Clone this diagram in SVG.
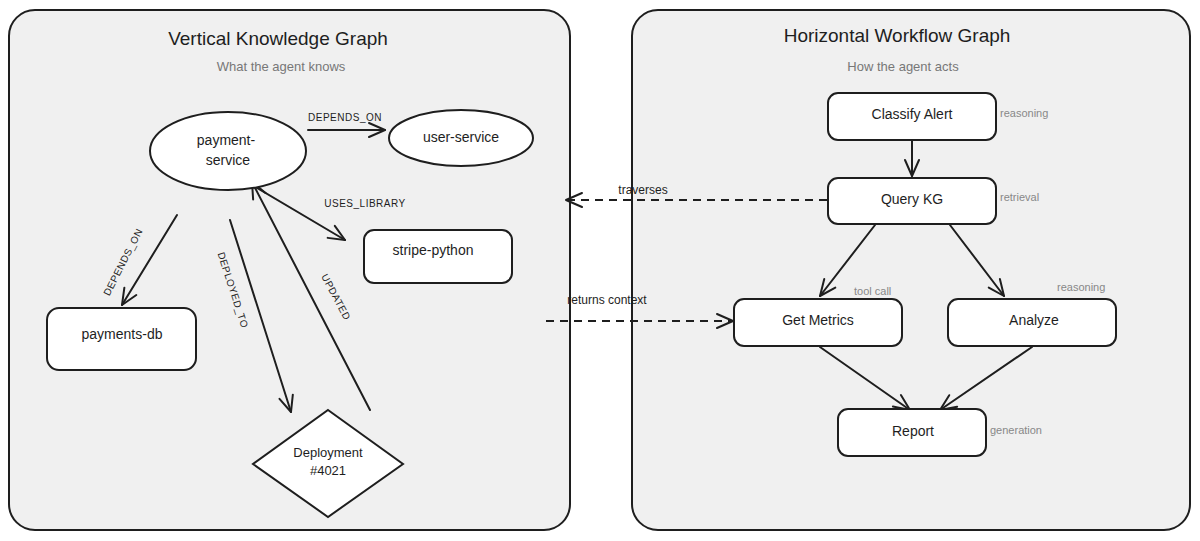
<svg xmlns="http://www.w3.org/2000/svg" width="1200" height="541" viewBox="0 0 1200 541">
<defs>
<marker id="arr" viewBox="0 0 20 20" refX="18" refY="10" markerWidth="20" markerHeight="20" markerUnits="userSpaceOnUse" orient="auto">
<path d="M2,3 L18,10 L2,17" fill="none" stroke="#1e1e1e" stroke-width="2" stroke-linecap="round" stroke-linejoin="round"/>
</marker>
<style>
.panel{fill:#f0f0f0;stroke:#1e1e1e;stroke-width:2}
.node{fill:#ffffff;stroke:#1e1e1e;stroke-width:2}
.t{font-family:"Liberation Sans",Arial,sans-serif;fill:#1e1e1e;text-anchor:middle;dominant-baseline:central}
.title{font-size:19px}
.sub{font-size:13px;fill:#777}
.nt{font-size:14px}
.el{font-family:"Liberation Sans",Arial,sans-serif;font-size:10px;fill:#1e1e1e;text-anchor:middle;dominant-baseline:central;letter-spacing:0.5px}
.tag{font-family:"Liberation Sans",Arial,sans-serif;font-size:11px;fill:#888;dominant-baseline:central}
.e{fill:none;stroke:#1e1e1e;stroke-width:2;stroke-linecap:round;marker-end:url(#arr)}
.d{fill:none;stroke:#1e1e1e;stroke-width:2;stroke-dasharray:8 6;marker-end:url(#arr)}
</style>
</defs>
<rect width="1200" height="541" fill="#ffffff"/>
<g id="panel-left">
<rect class="panel" x="9" y="10" width="561" height="520" rx="26"/>
<text class="t title" x="278" y="38">Vertical Knowledge Graph</text>
<text class="t sub" x="281" y="66">What the agent knows</text>
</g>
<g id="panel-right">
<rect class="panel" x="632" y="10" width="558" height="520" rx="26"/>
<text class="t title" x="897" y="35">Horizontal Workflow Graph</text>
<text class="t sub" x="903" y="66">How the agent acts</text>
</g>
<g id="connectors">
<path class="e" d="M308,130 L385,130"/>
<text class="el" x="345" y="117">DEPENDS_ON</text>
<path class="e" d="M252,185 L345,240"/>
<text class="el" x="365" y="203">USES_LIBRARY</text>
<path class="e" d="M177,215 L122,305"/>
<text class="el" transform="translate(123,262) rotate(-63)">DEPENDS_ON</text>
<path class="e" d="M230,220 L291,412"/>
<text class="el" transform="translate(233,290) rotate(72)">DEPLOYED_TO</text>
<path class="e" d="M370,410 L252,182"/>
<text class="el" transform="translate(336,297) rotate(62)">UPDATED</text>
<path class="e" d="M912,141 L912,176"/>
<path class="e" d="M875,225 L820,296"/>
<path class="e" d="M950,225 L1004,296"/>
<path class="e" d="M820,347 L910,410"/>
<path class="e" d="M1032,347 L940,410"/>
<path class="d" d="M827,200 L566,200"/>
<text class="t" x="643" y="190" style="font-size:12px">traverses</text>
<path class="d" d="M546,321 L733,321"/>
<text class="t" x="607" y="300" style="font-size:12px">returns context</text>
</g>
<g id="payment-service">
<ellipse class="node" cx="228" cy="151" rx="78" ry="39"/>
<text class="t nt" x="226" y="140">payment-</text>
<text class="t nt" x="228" y="160">service</text>
</g>
<g id="user-service">
<ellipse class="node" cx="461" cy="138" rx="72" ry="28"/>
<text class="t nt" x="461" y="137">user-service</text>
</g>
<g id="stripe-python">
<rect class="node" x="364" y="230" width="148" height="53" rx="10"/>
<text class="t nt" x="433" y="250">stripe-python</text>
</g>
<g id="payments-db">
<rect class="node" x="47" y="308" width="149" height="62" rx="12"/>
<text class="t nt" x="122" y="334">payments-db</text>
</g>
<g id="deployment">
<polygon class="node" points="328,410 403,464 328,517 253,464"/>
<text class="t" x="328" y="452" style="font-size:13px">Deployment</text>
<text class="t" x="328" y="470" style="font-size:13px">#4021</text>
</g>
<g id="classify-alert">
<rect class="node" x="828" y="93" width="168" height="47" rx="10"/>
<text class="t nt" x="912" y="114">Classify Alert</text>
<text class="tag" x="1000" y="113">reasoning</text>
</g>
<g id="query-kg">
<rect class="node" x="828" y="178" width="168" height="46" rx="10"/>
<text class="t nt" x="912" y="199">Query KG</text>
<text class="tag" x="1000" y="197">retrieval</text>
</g>
<g id="get-metrics">
<rect class="node" x="734" y="299" width="168" height="47" rx="10"/>
<text class="t nt" x="818" y="320">Get Metrics</text>
<text class="tag" x="854" y="291">tool call</text>
</g>
<g id="analyze">
<rect class="node" x="948" y="299" width="168" height="47" rx="10"/>
<text class="t nt" x="1034" y="320">Analyze</text>
<text class="tag" x="1057" y="287">reasoning</text>
</g>
<g id="report">
<rect class="node" x="838" y="409" width="148" height="47" rx="10"/>
<text class="t nt" x="913" y="431">Report</text>
<text class="tag" x="990" y="430">generation</text>
</g>
</svg>
